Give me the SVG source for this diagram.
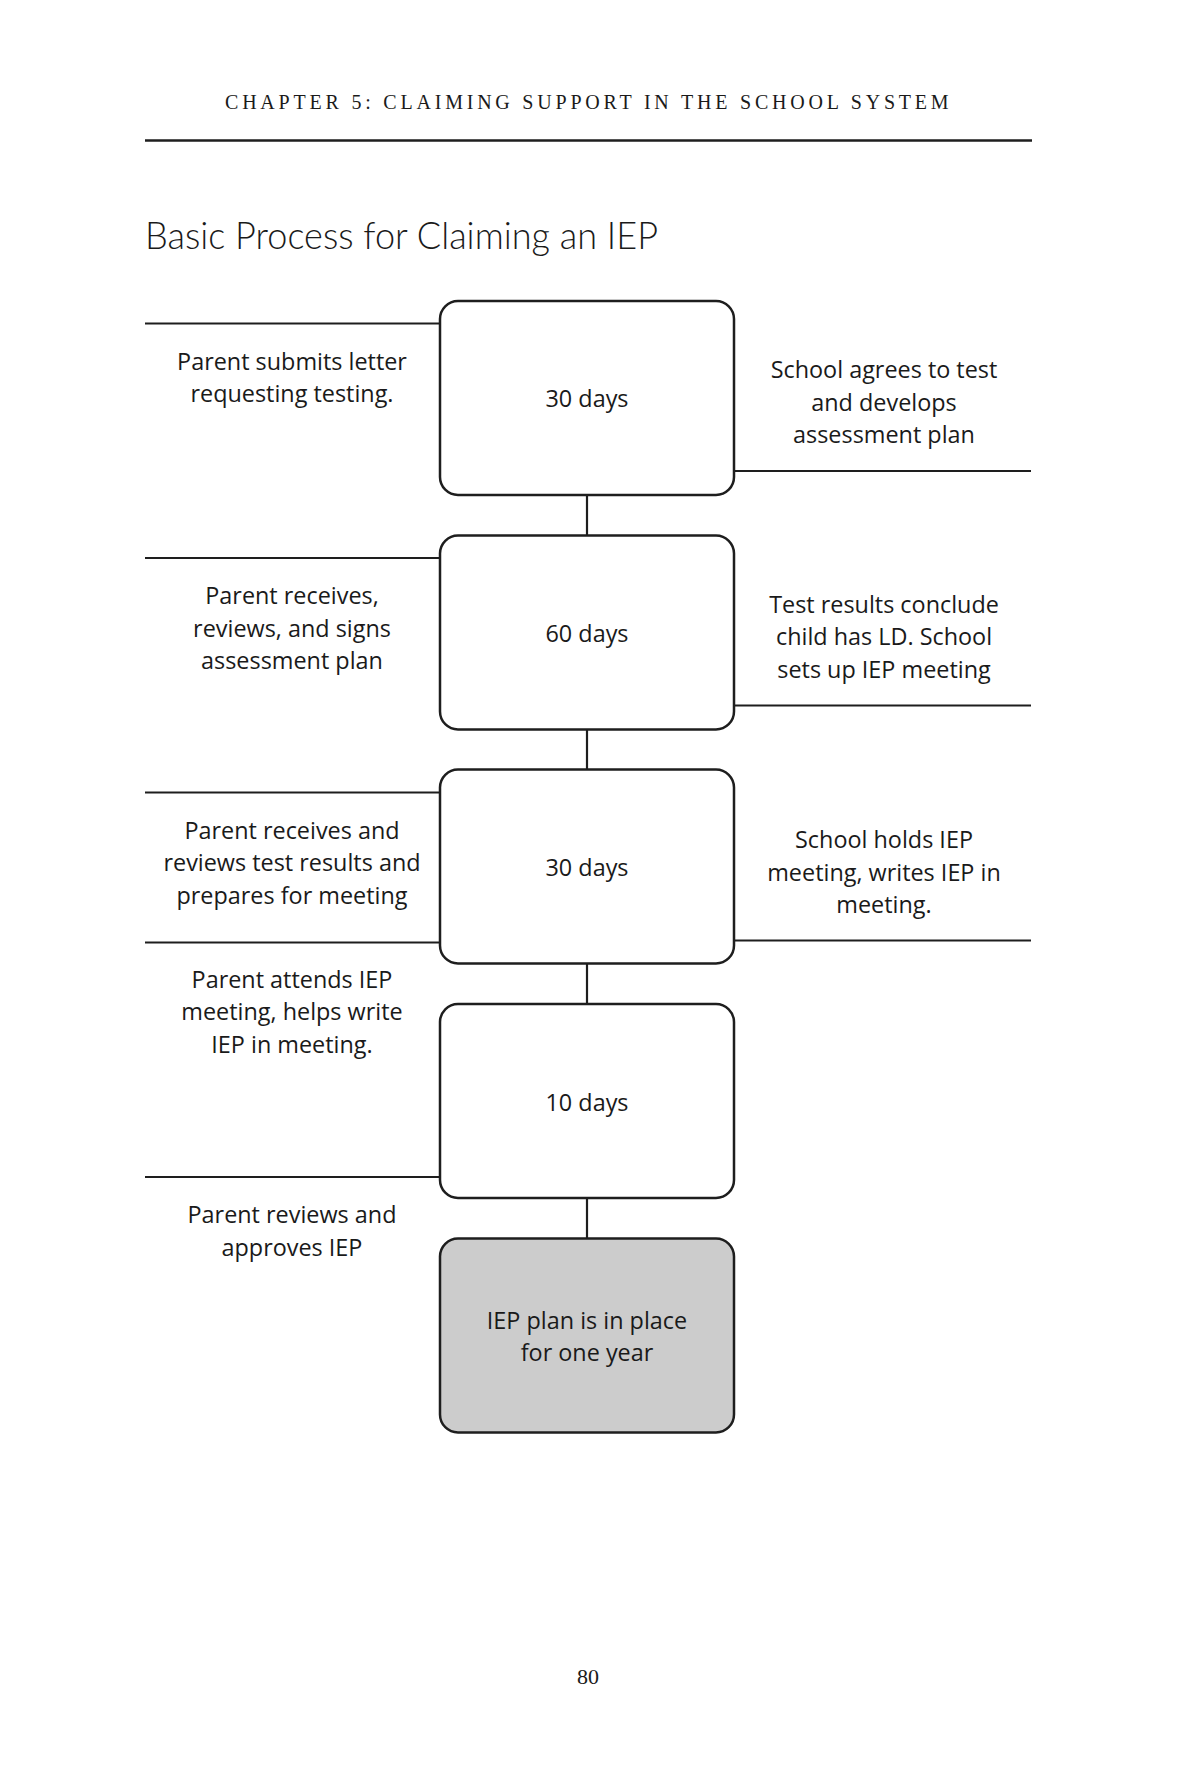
<svg xmlns="http://www.w3.org/2000/svg" width="1200" height="1776" viewBox="0 0 1200 1776">
<style>
.bg{fill:#ffffff}
.box{fill:#ffffff;stroke:#1e1e1e;stroke-width:2.5}
.box.final{fill:#cccccc}
.ln{stroke:#1e1e1e;stroke-width:2.2;fill:none}
.t{font-family:"Open Sans",Lato,"Liberation Sans",sans-serif;font-size:23.4px;fill:#1a1a1a;text-anchor:middle}
.hdr{font-family:"Liberation Serif","DejaVu Serif",serif;font-size:20px;fill:#1a1a1a;letter-spacing:2.4px}
.title{font-family:Lato,"Open Sans","Liberation Sans",sans-serif;font-weight:300;font-size:38px;fill:#1a1a1a}
.pg{font-family:"Liberation Serif","DejaVu Serif",serif;font-size:22px;fill:#1a1a1a;text-anchor:middle}
</style>
<rect class="bg" x="0" y="0" width="1200" height="1776"/>

<g id="header">
<text class="hdr" x="225" y="109" textLength="726" lengthAdjust="spacing">CHAPTER 5: CLAIMING SUPPORT IN THE SCHOOL SYSTEM</text>
<line x1="145" y1="140.5" x2="1032" y2="140.5" stroke="#1e1e1e" stroke-width="2.5"/>
</g>

<g id="title">
<text class="title" x="145" y="249" textLength="513" lengthAdjust="spacingAndGlyphs">Basic Process for Claiming an IEP</text>
</g>

<g id="connectors">
<line class="ln" x1="587" y1="495" x2="587" y2="535.5"/>
<line class="ln" x1="587" y1="729.5" x2="587" y2="769.5"/>
<line class="ln" x1="587" y1="963.5" x2="587" y2="1004"/>
<line class="ln" x1="587" y1="1198" x2="587" y2="1238.5"/>
<line class="ln" x1="145" y1="323.5" x2="440" y2="323.5"/>
<line class="ln" x1="145" y1="558" x2="440" y2="558"/>
<line class="ln" x1="145" y1="792.5" x2="440" y2="792.5"/>
<line class="ln" x1="145" y1="942.5" x2="440" y2="942.5"/>
<line class="ln" x1="145" y1="1177" x2="440" y2="1177"/>
<line class="ln" x1="734" y1="471" x2="1031" y2="471"/>
<line class="ln" x1="734" y1="705.5" x2="1031" y2="705.5"/>
<line class="ln" x1="734" y1="940.5" x2="1031" y2="940.5"/>
</g>

<g id="box1">
<rect class="box" x="440" y="301" width="294" height="194" rx="18"/>
<text class="t" x="587" y="407">30 days</text>
</g>
<g id="box2">
<rect class="box" x="440" y="535.5" width="294" height="194" rx="18"/>
<text class="t" x="587" y="641.5">60 days</text>
</g>
<g id="box3">
<rect class="box" x="440" y="769.5" width="294" height="194" rx="18"/>
<text class="t" x="587" y="876">30 days</text>
</g>
<g id="box4">
<rect class="box" x="440" y="1004" width="294" height="194" rx="18"/>
<text class="t" x="587" y="1111">10 days</text>
</g>
<g id="box5">
<rect class="box final" x="440" y="1238.5" width="294" height="194" rx="18"/>
<text class="t" x="587" y="1328.5">IEP plan is in place</text>
<text class="t" x="587" y="1361">for one year</text>
</g>

<g id="left1">
<text class="t" x="292" y="369.5">Parent submits letter</text>
<text class="t" x="292" y="401.5">requesting testing.</text>
</g>
<g id="left2">
<text class="t" x="292" y="604">Parent receives,</text>
<text class="t" x="292" y="636.5">reviews, and signs</text>
<text class="t" x="292" y="669">assessment plan</text>
</g>
<g id="left3">
<text class="t" x="292" y="838.5">Parent receives and</text>
<text class="t" x="292" y="871">reviews test results and</text>
<text class="t" x="292" y="903.5">prepares for meeting</text>
</g>
<g id="left4">
<text class="t" x="292" y="988">Parent attends IEP</text>
<text class="t" x="292" y="1020">meeting, helps write</text>
<text class="t" x="292" y="1052.5">IEP in meeting.</text>
</g>
<g id="left5">
<text class="t" x="292" y="1222.5">Parent reviews and</text>
<text class="t" x="292" y="1256">approves IEP</text>
</g>

<g id="right1">
<text class="t" x="884" y="378">School agrees to test</text>
<text class="t" x="884" y="410.5">and develops</text>
<text class="t" x="884" y="443">assessment plan</text>
</g>
<g id="right2">
<text class="t" x="884" y="612.5">Test results conclude</text>
<text class="t" x="884" y="645">child has LD. School</text>
<text class="t" x="884" y="677.5">sets up IEP meeting</text>
</g>
<g id="right3">
<text class="t" x="884" y="848">School holds IEP</text>
<text class="t" x="884" y="880.5">meeting, writes IEP in</text>
<text class="t" x="884" y="913">meeting.</text>
</g>

<g id="footer">
<text class="pg" x="588" y="1684">80</text>
</g>
</svg>
